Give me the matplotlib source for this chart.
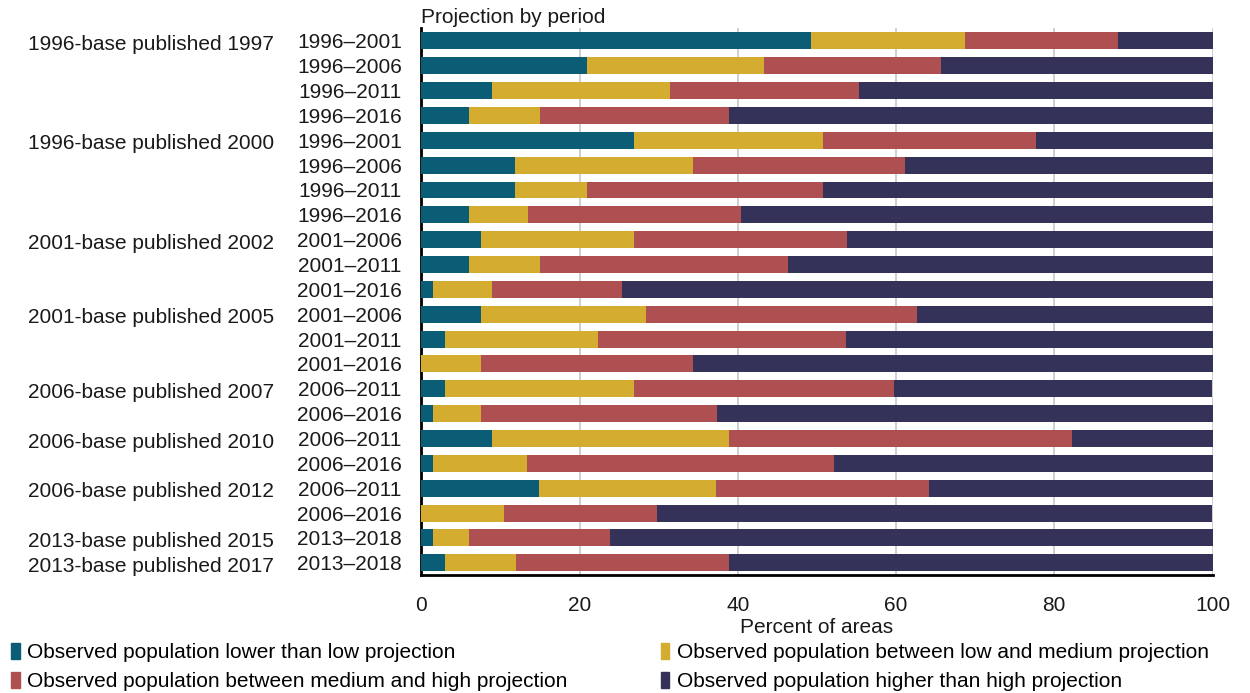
import numpy as np
import matplotlib
matplotlib.use('Agg')
import matplotlib.pyplot as plt
from matplotlib.transforms import blended_transform_factory
from matplotlib.patches import Patch

plt.rcParams['font.family'] = ['Liberation Sans', 'DejaVu Sans']

# Zeilen (Projektionsperiode) und zugehoerige Gruppen
periods = ['1996–2001', '1996–2006', '1996–2011', '1996–2016',
           '1996–2001', '1996–2006', '1996–2011', '1996–2016',
           '2001–2006', '2001–2011', '2001–2016',
           '2001–2006', '2001–2011', '2001–2016',
           '2006–2011', '2006–2016',
           '2006–2011', '2006–2016',
           '2006–2011', '2006–2016',
           '2013–2018',
           '2013–2018']
groups = ['1996-base published 1997', '1996-base published 2000',
          '2001-base published 2002', '2001-base published 2005',
          '2006-base published 2007', '2006-base published 2010',
          '2006-base published 2012', '2013-base published 2015',
          '2013-base published 2017']
group_first_row = [0, 4, 8, 11, 14, 16, 18, 20, 21]

# Anteile in Prozent
lower = [49.3, 20.9, 9.0, 6.0, 26.9, 11.9, 11.9, 6.0, 7.5, 6.0, 1.5,
         7.5, 3.0, 0.0, 3.0, 1.5, 9.0, 1.5, 14.9, 0.0, 1.5, 3.0]
low_med = [19.4, 22.4, 22.4, 9.0, 23.9, 22.4, 9.0, 7.5, 19.4, 9.0, 7.5,
           20.9, 19.4, 7.5, 23.9, 6.0, 29.9, 11.9, 22.4, 10.4, 4.5, 9.0]
med_high = [19.4, 22.4, 23.9, 23.9, 26.9, 26.9, 29.9, 26.9, 26.9, 31.3, 16.4,
            34.3, 31.3, 26.9, 32.8, 29.9, 43.3, 38.8, 26.9, 19.4, 17.9, 26.9]
higher = [11.9, 34.3, 44.8, 61.2, 22.4, 38.8, 49.3, 59.7, 46.3, 53.7, 74.6,
          37.3, 46.3, 65.7, 40.3, 62.7, 17.9, 47.8, 35.8, 70.1, 76.1, 61.2]

series = [lower, low_med, med_high, higher]
labels = ['Observed population lower than low projection',
          'Observed population between low and medium projection',
          'Observed population between medium and high projection',
          'Observed population higher than high projection']
colors = ['#0b5c75', '#d3ac30', '#ae4f52', '#35325a']
fs = 15

fig = plt.figure(figsize=(12.5, 6.93), dpi=100)
ax = fig.add_axes([0.337, 0.170, 0.633, 0.789])

y = np.arange(len(periods))
left = np.zeros(len(periods))
for vals, col in zip(series, colors):
    vals = np.array(vals)
    ax.barh(y, vals, left=left, height=0.68, color=col, zorder=3)
    left += vals

ax.set_xlim(0, 100)
ax.set_ylim(len(periods) - 0.5, -0.5)
ax.set_xticks([0, 20, 40, 60, 80, 100])
ax.set_yticks(y)
ax.set_yticklabels(periods)
ax.tick_params(axis='both', length=0, labelsize=fs, colors='#1a1a1a')
ax.tick_params(axis='y', pad=14)
ax.tick_params(axis='x', pad=15)
ax.grid(axis='x', color='#cccccc', linewidth=1.3, zorder=0)
for s in ['top', 'right']:
    ax.spines[s].set_visible(False)
ax.spines['left'].set_linewidth(2)
ax.spines['bottom'].set_linewidth(2)
ax.set_xlabel('Percent of areas', fontsize=fs, color='#1a1a1a', labelpad=2)

ax.text(0, 1.003, 'Projection by period', transform=ax.transAxes,
        fontsize=fs, color='#1a1a1a', va='bottom', ha='left')

trans = blended_transform_factory(fig.transFigure, ax.transData)
for g, r in zip(groups, group_first_row):
    ax.text(0.0224, r + 0.15, g, transform=trans, fontsize=fs, color='#1a1a1a',
            va='center', ha='left')

handles = [Patch(color=c) for c in colors]
order = [0, 2, 1, 3]
fig.legend([handles[i] for i in order], [labels[i] for i in order],
           ncol=2, loc='upper left', bbox_to_anchor=(0.009, 0.072),
           frameon=False, fontsize=fs, handlelength=0.4, handleheight=0.8,
           handletextpad=0.35, columnspacing=4.5, labelspacing=0.45,
           borderaxespad=0, borderpad=0)

fig.savefig('out.png', dpi=100)
